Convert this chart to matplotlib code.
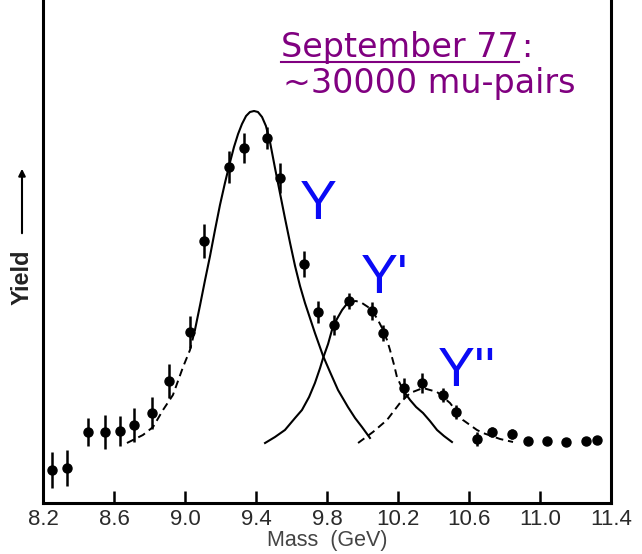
import numpy as np
import matplotlib
matplotlib.use('Agg')
import matplotlib.pyplot as plt

mass = [8.25, 8.335, 8.454, 8.549, 8.634, 8.713, 8.814, 8.910, 9.028, 9.107,
        9.248, 9.332, 9.462, 9.535, 9.670, 9.749, 9.839, 9.924, 10.054, 10.115,
        10.234, 10.335, 10.454, 10.527, 10.645, 10.730, 10.842, 10.932, 11.039,
        11.146, 11.259, 11.321]
yld = [33, 35, 71, 71, 72, 78, 90, 122, 171, 262,
       336, 355, 365, 325, 239, 191, 178, 202, 192, 170,
       115, 120, 108, 91, 64, 71, 69, 62, 62,
       61, 62, 63]
err = [18, 18, 14, 17, 15, 17, 16, 17, 16, 17,
       16, 15, 11, 15, 13, 11, 10, 8, 9, 8,
       10, 10, 7, 7, 7, 5, 5, 4, 3,
       3, 3, 3]

# fitted curves
# total fit, low mass side (dashed)
fit_lo_m = [8.673, 8.763, 8.820, 8.876, 8.932, 8.989, 9.028, 9.056]
fit_lo_y = [60, 68, 76, 93, 108, 136, 153, 173]

# Upsilon(1S) component (solid)
ups1_m = [9.056, 9.085, 9.113, 9.141, 9.169, 9.197, 9.225, 9.254, 9.276, 9.299,
          9.321, 9.344, 9.366, 9.389, 9.411, 9.434, 9.456, 9.479, 9.507, 9.535,
          9.563, 9.592, 9.620, 9.648, 9.676, 9.704, 9.732, 9.778, 9.817, 9.862,
          9.918, 9.958, 9.997, 10.042]
ups1_y = [173, 198, 223, 247, 273, 298, 320, 341, 356, 369,
          379, 387, 391, 392, 391, 386, 377, 361, 335, 310,
          285, 260, 237, 217, 200, 185, 170, 147, 131, 113,
          96, 85, 76, 65]

# Upsilon(2S) component (solid rise, solid tail)
ups2_m = [9.451, 9.507, 9.563, 9.620, 9.659, 9.699, 9.732, 9.761, 9.778, 9.806,
          9.828, 9.856, 9.885, 9.907, 9.930]
ups2_y = [60, 66, 73, 85, 93, 106, 120, 135, 145, 159,
          173, 184, 193, 198, 201]
ups2_tail_m = [10.228, 10.268, 10.302, 10.341, 10.380, 10.420, 10.459, 10.504]
ups2_tail_y = [113, 103, 96, 90, 82, 73, 67, 61]

# total fit over the 2S peak (dashed)
fit_hi_m = [9.930, 9.963, 9.997, 10.031, 10.059, 10.087, 10.116, 10.138, 10.155,
            10.178, 10.194, 10.228]
fit_hi_y = [201, 202, 200, 196, 191, 183, 173, 163, 153,
            138, 126, 113]

# Upsilon(3S) component (dashed)
ups3_m = [9.975, 10.059, 10.138, 10.211, 10.268, 10.341, 10.420, 10.493, 10.566,
          10.645, 10.679, 10.775, 10.848]
ups3_y = [60, 71, 83, 100, 110, 115, 111, 100, 83,
          73, 70, 64, 61]

ticks = [8.2, 8.6, 9.0, 9.4, 9.8, 10.2, 10.6, 11.0, 11.4]
tick_labels = ['8.2', '8.6', '9.0', '9.4', '9.8', '10.2', '10.6', '11.0', '11.4']

plt.rcParams['font.family'] = ['Liberation Sans', 'DejaVu Sans']

fig = plt.figure(figsize=(6.42, 5.54), dpi=100)
ax = fig.add_axes([43 / 642, 51 / 554, 568 / 642, 503 / 554])

# curves
dash = (4, 2.5)
ax.plot(fit_lo_m, fit_lo_y, color='black', lw=1.4, dashes=dash)
ax.plot(ups1_m, ups1_y, color='black', lw=1.5, solid_joinstyle='round')
ax.plot(ups2_m, ups2_y, color='black', lw=1.5, solid_joinstyle='round')
ax.plot(ups2_tail_m, ups2_tail_y, color='black', lw=1.5, solid_joinstyle='round')
ax.plot(fit_hi_m, fit_hi_y, color='black', lw=1.4, dashes=dash)
ax.plot(ups3_m, ups3_y, color='black', lw=1.4, dashes=dash)

# data points
ax.errorbar(mass, yld, yerr=err, fmt='o', color='black', ms=6.5,
            elinewidth=1.8, capsize=0)

ax.set_xlim(8.2, 11.4)
ax.set_ylim(0, 503)
ax.set_xticks(ticks)
ax.set_xticklabels(tick_labels)
ax.set_yticks([])
ax.tick_params(axis='x', direction='in', length=9, width=1.8, pad=4,
               labelsize=16, labelcolor='#2a2a2a')
ax.spines['top'].set_visible(False)
for s in ['left', 'right', 'bottom']:
    ax.spines[s].set_linewidth(2.2)
ax.set_xlabel('Mass  (GeV)', fontsize=15.5, color='#444444', labelpad=0)

# resonance labels
blue = '#0a0af5'
ax.text(9.749, 298, '\u03a5', color=blue, fontsize=40, ha='center', va='center')
ax.text(10.127, 224, "\u03a5'", color=blue, fontsize=40, ha='center', va='center')
ax.text(10.589, 131, "\u03a5''", color=blue, fontsize=40, ha='center', va='center')

# y axis label with arrow
fig.text(22 / 642, 1 - 277 / 554, 'Yield', rotation=90, fontsize=17,
         fontweight='bold', color='#222222', ha='center', va='center')
ax.annotate('', xy=(22, 554 - 166), xytext=(22, 554 - 236), xycoords='figure pixels',
            textcoords='figure pixels',
            arrowprops=dict(arrowstyle='-|>', lw=1.5, color='black', mutation_scale=10))

# annotation in purple
purple = '#800080'
t1 = fig.text(281 / 642, 1 - 57 / 554, 'September 77', fontsize=24, color=purple,
              family='DejaVu Sans', ha='left', va='baseline')
fig.canvas.draw()
bb = t1.get_window_extent()
fig.text(bb.x1 / 642 + 0.003, 1 - 57 / 554, ':', fontsize=24, color=purple,
         family='DejaVu Sans', ha='left', va='baseline')
fig.add_artist(plt.Line2D([bb.x0 / 642, bb.x1 / 642], [1 - 62 / 554, 1 - 62 / 554],
                          color=purple, lw=1.5))
fig.text(283 / 642, 1 - 93 / 554, '~30000 mu-pairs', fontsize=24, color=purple,
         family='DejaVu Sans', ha='left', va='baseline')

fig.savefig('out.png', dpi=100)
